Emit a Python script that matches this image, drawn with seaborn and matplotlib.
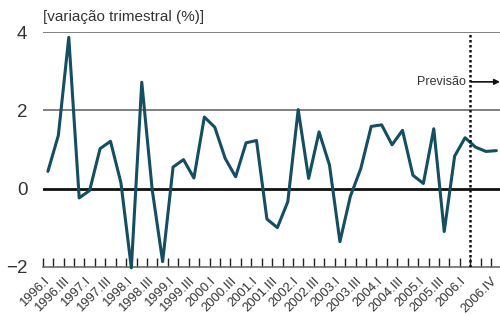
import numpy as np
import pandas as pd
import matplotlib
matplotlib.use("Agg")
from matplotlib import pyplot as plt
import seaborn as sns

# quarterly change (%), 1996.I .. 2006.IV
quarters = ["1996.I", "1996.II", "1996.III", "1996.IV",
            "1997.I", "1997.II", "1997.III", "1997.IV",
            "1998.I", "1998.II", "1998.III", "1998.IV",
            "1999.I", "1999.II", "1999.III", "1999.IV",
            "2000.I", "2000.II", "2000.III", "2000.IV",
            "2001.I", "2001.II", "2001.III", "2001.IV",
            "2002.I", "2002.II", "2002.III", "2002.IV",
            "2003.I", "2003.II", "2003.III", "2003.IV",
            "2004.I", "2004.II", "2004.III", "2004.IV",
            "2005.I", "2005.II", "2005.III", "2005.IV",
            "2006.I", "2006.II", "2006.III", "2006.IV"]
variation = [0.44, 1.36, 3.87, -0.24, -0.05, 1.02, 1.21, 0.15,
             -2.03, 2.72, -0.03, -1.87, 0.55, 0.74, 0.27, 1.83,
             1.57, 0.77, 0.30, 1.17, 1.23, -0.78, -1.00, -0.34,
             2.02, 0.26, 1.45, 0.60, -1.36, -0.20, 0.51, 1.59,
             1.63, 1.12, 1.49, 0.34, 0.13, 1.53, -1.10, 0.83,
             1.30, 1.06, 0.95, 0.97]
labelled = ["1996.I", "1996.III", "1997.I", "1997.III", "1998.I", "1998.III",
            "1999.I", "1999.III", "2000.I", "2000.III", "2001.I", "2001.III",
            "2002.I", "2002.III", "2003.I", "2003.III", "2004.I", "2004.III",
            "2005.I", "2005.III", "2006.I", "2006.IV"]
y_ticks = [-2, 0, 2, 4]
forecast_start = "2006.II"

sns.set_theme(style="white")
plt.rcParams['font.family'] = ['Liberation Sans', 'DejaVu Sans']

df = pd.DataFrame({'pos': np.arange(len(quarters)) + 0.5, 'var': variation})

fig = plt.figure(figsize=(5, 3.16), dpi=100)
ax = fig.add_axes([0.0854, 0.156, 0.9146, 0.742])

ax.axhline(4, color='#6b6b6b', lw=1.2, zorder=1)
ax.axhline(2, color='#6b6b6b', lw=1.2, zorder=1)
ax.axhline(0, color='#111111', lw=2.0, zorder=1)

sns.lineplot(data=df, x='pos', y='var', color='#134e62', lw=2.2, ax=ax,
             zorder=3, clip_on=False)

xf = quarters.index(forecast_start)
ax.axvline(xf, ymin=0, ymax=1, color='#111111', lw=1.8, ls=(0, (1, 1)), zorder=4)
ax.annotate('', xy=(43.85, 2.73), xytext=(xf + 0.1, 2.73),
            arrowprops=dict(arrowstyle='-|>', color='#111111', lw=1.2,
                            mutation_scale=8, shrinkA=0, shrinkB=0),
            annotation_clip=False)
ax.text(xf - 0.4, 2.73, 'Previsão', ha='right', va='center', fontsize=9,
        color='#333333')

ax.set_xlim(0, 43.85)
ax.set_ylim(-2, 4)
ax.set_xticks(range(len(quarters)))
ax.set_xticklabels([q if q in labelled else '' for q in quarters],
                   rotation=45, ha='right', va='top', rotation_mode='anchor',
                   fontsize=9.4, color='#333333')
ax.set_yticks(y_ticks)
ax.set_yticklabels(['\u22122', '0', '2', '4'], fontsize=13.5, color='#333333')
ax.tick_params(axis='x', direction='in', length=6.5, width=1, color='#222222',
               pad=6, bottom=True)
ax.tick_params(axis='y', length=0, pad=11)
ax.set_xlabel('')
ax.set_ylabel('')
for s in ['top', 'right', 'left']:
    ax.spines[s].set_visible(False)
ax.spines['bottom'].set_color('#6b6b6b')
ax.spines['bottom'].set_linewidth(1.2)

fig.text(0.086, 0.945, '[variação trimestral (%)]', ha='left', va='center',
         fontsize=11, color='#333333')

plt.savefig('out.png', dpi=100)
